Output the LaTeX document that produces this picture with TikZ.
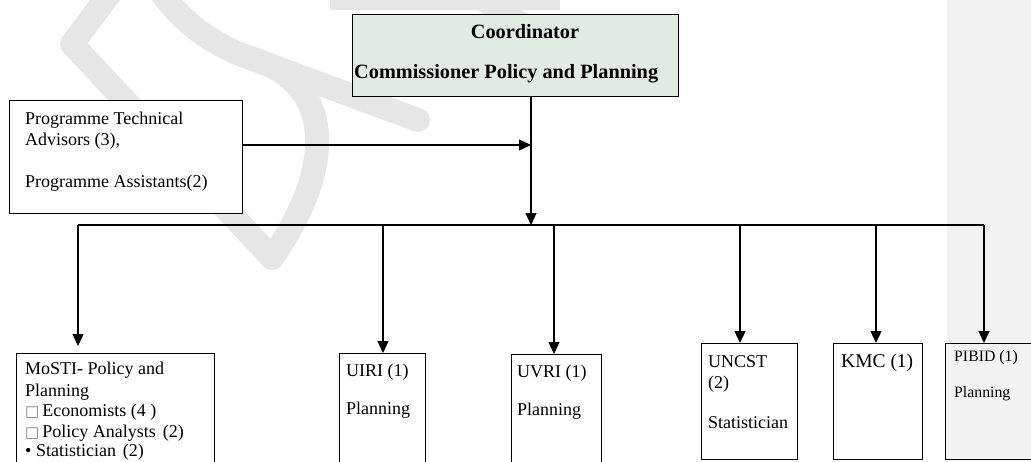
\documentclass[tikz,border=0pt]{standalone}
\usepackage{fontspec}
\setmainfont{Liberation Serif}
\newfontfamily\symfont{DejaVu Sans}
\usetikzlibrary{arrows.meta}
\definecolor{coordfill}{RGB}{226,235,226}
\definecolor{panelgray}{RGB}{242,242,242}
\definecolor{wmark}{RGB}{230,230,230}
\begin{document}
\begin{tikzpicture}[x=1pt,y=-1pt,
  box/.style={draw,line width=1.2pt,inner sep=0,anchor=north west,fill=white},
  txt/.style={anchor=west,inner sep=0,font=\fontsize{18}{20}\selectfont},
  btxt/.style={inner sep=0,font=\fontsize{20.3}{22}\selectfont\bfseries},
  conn/.style={line width=1.3pt},
  arr/.style={conn,-{Triangle[width=11pt,length=12pt]}},
  wm/.style={draw=wmark,line width=24pt,line cap=round,line join=round}]
\useasboundingbox (0,0) rectangle (1031,461);
\fill[panelgray] (947,0) rectangle (1031,461);
% watermark (behind everything)
\begin{scope}
\clip (0,0) rectangle (947,461);
\draw[wm,line cap=butt] (120,-20) -- (72,44) -- (272,258);
\draw[wm] (272,258) .. controls (340,160) and (330,80) .. (250,58) .. controls (200,40) and (170,10) .. (150,-25);
\draw[wm] (250,58) -- (418,120);
\draw[wm,line cap=butt] (330,-2) -- (560,-2);
\draw[wm] (470,-10) -- (545,40);
\end{scope}
% boxes
\node[box,fill=coordfill,minimum width=326pt,minimum height=82pt] (coord) at (352,14) {};
\node[box,minimum width=233pt,minimum height=113pt] (prog) at (9,100) {};
\node[box,minimum width=198pt,minimum height=120pt] (mosti) at (16,353) {};
\node[box,minimum width=86pt,minimum height=120pt] (uiri) at (339,353) {};
\node[box,minimum width=90pt,minimum height=120pt] (uvri) at (511,354) {};
\node[box,minimum width=96pt,minimum height=116pt] (uncst) at (701,343) {};
\node[box,minimum width=89pt,minimum height=116pt] (kmc) at (833,343) {};
\node[box,fill=panelgray,minimum width=100pt,minimum height=116pt] (pibid) at (945,343) {};
% texts
\node[btxt] (t1) at (525,32) {Coordinator};
\node[btxt,anchor=west] (t2) at (354,74) {Commissioner Policy and Planning};
\node[txt] (p1) at (25,120) {Programme Technical};
\node[txt] (p2) at (25,141) {Advisors (3),};
\node[txt] (p3) at (25,183) {Programme Assistants(2)};
\node[txt] (m1) at (25,370) {MoSTI- Policy and};
\node[txt] (m2) at (25,392) {Planning};
\node[txt] (m3) at (25,412) {{\symfont\fontsize{15}{15}\selectfont\color{gray}□}\,Economists (4 )};
\node[txt] (m4) at (25,433) {{\symfont\fontsize{15}{15}\selectfont\color{gray}□}\,Policy Analysts\hspace{7pt}(2)};
\node[txt] (m5) at (25,452) {• Statistician\hspace{7pt}(2)};
\node[txt] (u1) at (346,372) {UIRI (1)};
\node[txt] (u2) at (346,410) {Planning};
\node[txt] (v1) at (517,373) {UVRI (1)};
\node[txt] (v2) at (517,411) {Planning};
\node[txt] (n1) at (708,362) {UNCST};
\node[txt] (n2) at (708,384) {(2)};
\node[txt] (n3) at (708,423) {Statistician};
\node[txt,font=\fontsize{19.5}{21}\selectfont] (k1) at (841,363) {KMC (1)};
\node[txt,font=\fontsize{15.8}{18}\selectfont] (pb1) at (954,358) {PIBID (1)};
\node[txt,font=\fontsize{15.8}{18}\selectfont] (pb2) at (954,394) {Planning};
% connectors
\coordinate (j) at (531,225);
\coordinate (m) at (531,145);
\coordinate (b1) at (78,225);
\coordinate (b2) at (383,225);
\coordinate (b3) at (554,225);
\coordinate (b4) at (740,225);
\coordinate (b5) at (876,225);
\coordinate (b6) at (984,225);
\draw[arr] (coord.south -| j) -- (j);
\draw[arr] (prog.east |- m) -- (m);
\draw[conn] (b1) -- (b6);
\draw[arr,shorten >=7pt] (b1) -- (b1 |- mosti.north);
\draw[arr] (b2) -- (b2 |- uiri.north);
\draw[arr] (b3) -- (b3 |- uvri.north);
\draw[arr] (b4) -- (b4 |- uncst.north);
\draw[arr] (b5) -- (b5 |- kmc.north);
\draw[arr] (b6) -- (b6 |- pibid.north);
\end{tikzpicture}
\end{document}
